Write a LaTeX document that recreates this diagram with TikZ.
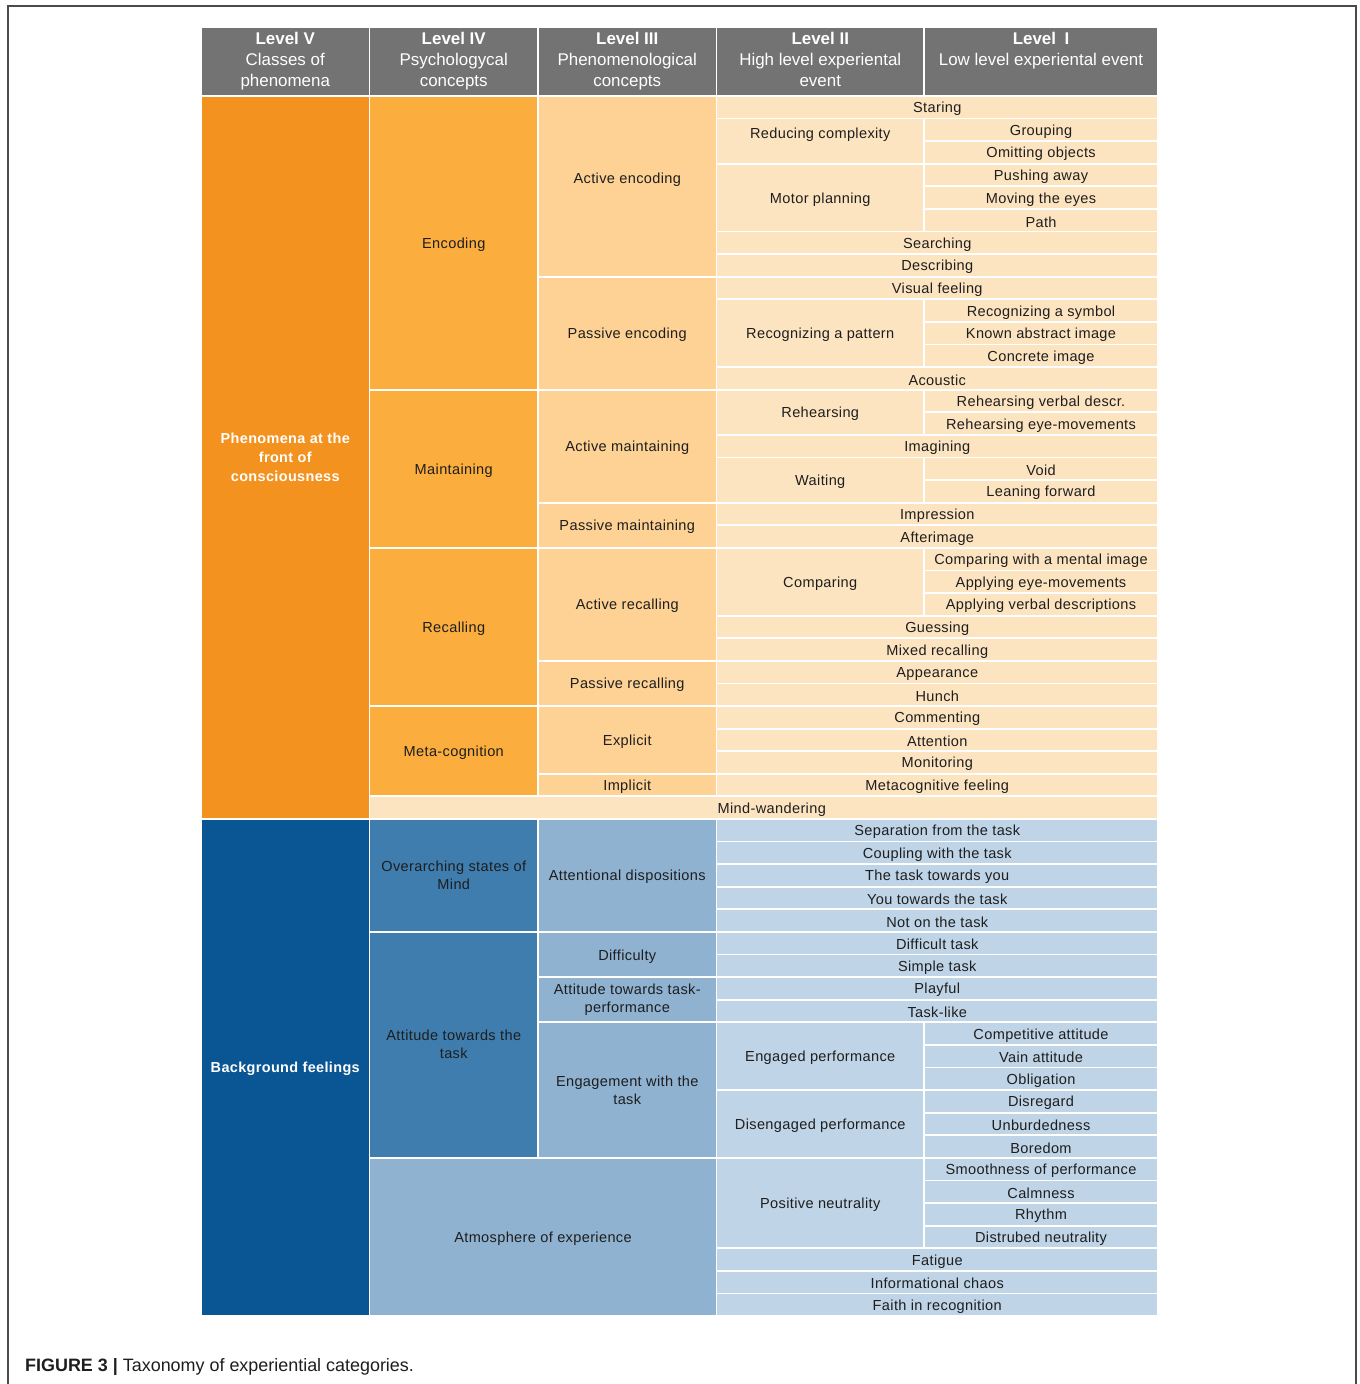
\documentclass[tikz,border=0pt]{standalone}
\usepackage{fontspec}
\setmainfont{Liberation Sans}
\newfontfamily\cellfont{Liberation Sans}[LetterSpace=2.5]
\definecolor{hdrgray}{HTML}{737373}
\definecolor{oV}{HTML}{F3921F}
\definecolor{oIV}{HTML}{FBAD3D}
\definecolor{oIII}{HTML}{FDD294}
\definecolor{oII}{HTML}{FDE4C1}
\definecolor{bV}{HTML}{0A5593}
\definecolor{bIV}{HTML}{3F7DAE}
\definecolor{bIII}{HTML}{8FB2D1}
\definecolor{bII}{HTML}{BFD4E7}
\definecolor{txt}{HTML}{1E1E1E}
\definecolor{framecol}{HTML}{4A4A4A}
\def\cA{201}\def\cB{369.5}\def\cC{538}\def\cD{716.5}\def\cE{924}\def\cF{1158}
\newcommand\cellstrut{\rule[-0.5bp]{0pt}{14.5bp}}
\newcommand\hs{\rule[-4.5bp]{0pt}{16bp}}
\newcommand\lift[2]{\raisebox{#1}[0pt][0pt]{#2}}
\newcommand\tcell[7]{%
  \pgfmathsetmacro\cya{96+(#4-1)*22.593}%
  \pgfmathsetmacro\cyb{96+(#5)*22.593}%
  \pgfmathsetmacro\cw{#3-#2}%
  \pgfmathsetmacro\ch{\cyb-\cya}%
  \pgfmathsetmacro\cx{(#2+#3)/2}%
  \pgfmathsetmacro\cy{(\cya+\cyb)/2}%
  \node[cellbase,#6,minimum width=\cw bp,minimum height=\ch bp] (#1) at (\cx,\cy) {#7};}
\newcommand\hcell[4]{%
  \pgfmathsetmacro\cw{#3-#2}%
  \pgfmathsetmacro\cx{(#2+#3)/2}%
  \node[hdr,minimum width=\cw bp] (#1) at (\cx,61.25) {#4};}
\begin{document}
\begin{tikzpicture}[x=1bp,y=-1bp,
  cellbase/.style={draw=white,line width=1.8bp,inner sep=0pt,outer sep=0pt,align=center,
    text=txt,font=\cellfont\fontsize{14.6}{18}\selectfont,execute at begin node=\cellstrut},
  ml/.style={execute at begin node={}},
  hdr/.style={draw=white,line width=1.8bp,inner sep=0pt,outer sep=0pt,align=center,
    fill=hdrgray,text=white,minimum height=68.5bp,font=\fontsize{17}{21}\selectfont},
  ov/.style={fill=oV,text=white,font=\cellfont\bfseries\fontsize{14.5}{18.7}\selectfont},
  oiv/.style={fill=oIV},
  oiii/.style={fill=oIII},
  oii/.style={fill=oII},
  bv/.style={fill=bV,text=white,font=\cellfont\bfseries\fontsize{14.5}{18.7}\selectfont},
  biv/.style={fill=bIV},
  biii/.style={fill=bIII},
  bii/.style={fill=bII}]
\useasboundingbox (0,0) rectangle (1360,1384);
\fill[white] (0,0) rectangle (1360,1384);
\draw[framecol,line width=1.5bp] (8,1384) -- (8,6) -- (1356,6) -- (1356,1384);
% header
\hcell{h5}{\cA}{\cB}{\hs\textbf{Level V}\\\hs Classes of\\\hs phenomena}
\hcell{h4}{\cB}{\cC}{\hs\textbf{Level IV}\\\hs Psychologycal\\\hs concepts}
\hcell{h3}{\cC}{\cD}{\hs\textbf{Level III}\\\hs Phenomenological\\\hs concepts}
\hcell{h2}{\cD}{\cE}{\hs\textbf{Level II}\\\hs High level experiental\\\hs event}
\hcell{h1}{\cE}{\cF}{\hs\textbf{Level\enspace I}\\\hs Low level experiental event\\\hs}
% Level V
\tcell{v1}{\cA}{\cB}{1}{32}{ov,ml}{Phenomena at the\\front of\\consciousness}
\tcell{v2}{\cA}{\cB}{33}{54}{bv}{Background feelings}
% Level IV
\tcell{iv1}{\cB}{\cC}{1}{13}{oiv}{Encoding}
\tcell{iv2}{\cB}{\cC}{14}{20}{oiv}{Maintaining}
\tcell{iv3}{\cB}{\cC}{21}{27}{oiv}{Recalling}
\tcell{iv4}{\cB}{\cC}{28}{31}{oiv}{Meta-cognition}
\tcell{mw}{\cB}{\cF}{32}{32}{oii}{\hspace*{16bp}Mind-wandering}
\tcell{iv5}{\cB}{\cC}{33}{37}{biv,ml}{Overarching states of\\Mind}
\tcell{iv6}{\cB}{\cC}{38}{47}{biv,ml}{Attitude towards the\\task}
\tcell{iv7}{\cB}{\cD}{48}{54}{biii}{Atmosphere of experience}
% Level III
\tcell{iii1}{\cC}{\cD}{1}{8}{oiii}{\lift{9.5bp}{Active encoding}}
\tcell{iii2}{\cC}{\cD}{9}{13}{oiii}{Passive encoding}
\tcell{iii3}{\cC}{\cD}{14}{18}{oiii}{Active maintaining}
\tcell{iii4}{\cC}{\cD}{19}{20}{oiii}{Passive maintaining}
\tcell{iii5}{\cC}{\cD}{21}{25}{oiii}{Active recalling}
\tcell{iii6}{\cC}{\cD}{26}{27}{oiii}{Passive recalling}
\tcell{iii7}{\cC}{\cD}{28}{30}{oiii}{Explicit}
\tcell{iii8}{\cC}{\cD}{31}{31}{oiii}{Implicit}
\tcell{iii9}{\cC}{\cD}{33}{37}{biii}{Attentional dispositions}
\tcell{iii10}{\cC}{\cD}{38}{39}{biii}{Difficulty}
\tcell{iii11}{\cC}{\cD}{40}{41}{biii,ml}{Attitude towards task-\\performance}
\tcell{iii12}{\cC}{\cD}{42}{47}{biii,ml}{Engagement with the\\task}
% Level II / I (orange)
\tcell{r1}{\cD}{\cF}{1}{1}{oii}{Staring}
\tcell{ii1}{\cD}{\cE}{2}{3}{oii}{\lift{9bp}{Reducing complexity}}
\tcell{r2}{\cE}{\cF}{2}{2}{oii}{Grouping}
\tcell{r3}{\cE}{\cF}{3}{3}{oii}{Omitting objects}
\tcell{ii2}{\cD}{\cE}{4}{6}{oii}{Motor planning}
\tcell{r4}{\cE}{\cF}{4}{4}{oii}{Pushing away}
\tcell{r5}{\cE}{\cF}{5}{5}{oii}{Moving the eyes}
\tcell{r6}{\cE}{\cF}{6}{6}{oii}{Path}
\tcell{r7}{\cD}{\cF}{7}{7}{oii}{Searching}
\tcell{r8}{\cD}{\cF}{8}{8}{oii}{Describing}
\tcell{r9}{\cD}{\cF}{9}{9}{oii}{Visual feeling}
\tcell{ii3}{\cD}{\cE}{10}{12}{oii}{Recognizing a pattern}
\tcell{r10}{\cE}{\cF}{10}{10}{oii}{Recognizing a symbol}
\tcell{r11}{\cE}{\cF}{11}{11}{oii}{Known abstract image}
\tcell{r12}{\cE}{\cF}{12}{12}{oii}{Concrete image}
\tcell{r13}{\cD}{\cF}{13}{13}{oii}{Acoustic}
\tcell{ii4}{\cD}{\cE}{14}{15}{oii}{Rehearsing}
\tcell{r14}{\cE}{\cF}{14}{14}{oii}{Rehearsing verbal descr.}
\tcell{r15}{\cE}{\cF}{15}{15}{oii}{Rehearsing eye-movements}
\tcell{r16}{\cD}{\cF}{16}{16}{oii}{Imagining}
\tcell{ii5}{\cD}{\cE}{17}{18}{oii}{Waiting}
\tcell{r17}{\cE}{\cF}{17}{17}{oii}{Void}
\tcell{r18}{\cE}{\cF}{18}{18}{oii}{Leaning forward}
\tcell{r19}{\cD}{\cF}{19}{19}{oii}{Impression}
\tcell{r20}{\cD}{\cF}{20}{20}{oii}{Afterimage}
\tcell{ii6}{\cD}{\cE}{21}{23}{oii}{Comparing}
\tcell{r21}{\cE}{\cF}{21}{21}{oii}{Comparing with a mental image}
\tcell{r22}{\cE}{\cF}{22}{22}{oii}{Applying eye-movements}
\tcell{r23}{\cE}{\cF}{23}{23}{oii}{Applying verbal descriptions}
\tcell{r24}{\cD}{\cF}{24}{24}{oii}{Guessing}
\tcell{r25}{\cD}{\cF}{25}{25}{oii}{Mixed recalling}
\tcell{r26}{\cD}{\cF}{26}{26}{oii}{Appearance}
\tcell{r27}{\cD}{\cF}{27}{27}{oii}{Hunch}
\tcell{r28}{\cD}{\cF}{28}{28}{oii}{Commenting}
\tcell{r29}{\cD}{\cF}{29}{29}{oii}{Attention}
\tcell{r30}{\cD}{\cF}{30}{30}{oii}{Monitoring}
\tcell{r31}{\cD}{\cF}{31}{31}{oii}{Metacognitive feeling}
% Level II / I (blue)
\tcell{r33}{\cD}{\cF}{33}{33}{bii}{Separation from the task}
\tcell{r34}{\cD}{\cF}{34}{34}{bii}{Coupling with the task}
\tcell{r35}{\cD}{\cF}{35}{35}{bii}{The task towards you}
\tcell{r36}{\cD}{\cF}{36}{36}{bii}{You towards the task}
\tcell{r37}{\cD}{\cF}{37}{37}{bii}{Not on the task}
\tcell{r38}{\cD}{\cF}{38}{38}{bii}{Difficult task}
\tcell{r39}{\cD}{\cF}{39}{39}{bii}{Simple task}
\tcell{r40}{\cD}{\cF}{40}{40}{bii}{Playful}
\tcell{r41}{\cD}{\cF}{41}{41}{bii}{Task-like}
\tcell{ii7}{\cD}{\cE}{42}{44}{bii}{Engaged performance}
\tcell{r42}{\cE}{\cF}{42}{42}{bii}{Competitive attitude}
\tcell{r43}{\cE}{\cF}{43}{43}{bii}{Vain attitude}
\tcell{r44}{\cE}{\cF}{44}{44}{bii}{Obligation}
\tcell{ii8}{\cD}{\cE}{45}{47}{bii}{Disengaged performance}
\tcell{r45}{\cE}{\cF}{45}{45}{bii}{Disregard}
\tcell{r46}{\cE}{\cF}{46}{46}{bii}{Unburdedness}
\tcell{r47}{\cE}{\cF}{47}{47}{bii}{Boredom}
\tcell{ii9}{\cD}{\cE}{48}{51}{bii}{Positive neutrality}
\tcell{r48}{\cE}{\cF}{48}{48}{bii}{Smoothness of performance}
\tcell{r49}{\cE}{\cF}{49}{49}{bii}{Calmness}
\tcell{r50}{\cE}{\cF}{50}{50}{bii}{Rhythm}
\tcell{r51}{\cE}{\cF}{51}{51}{bii}{Distrubed neutrality}
\tcell{r52}{\cD}{\cF}{52}{52}{bii}{Fatigue}
\tcell{r53}{\cD}{\cF}{53}{53}{bii}{Informational chaos}
\tcell{r54}{\cD}{\cF}{54}{54}{bii}{Faith in recognition}
% caption
\node[anchor=base west,inner sep=0pt,text=txt,font=\fontsize{18}{22}\selectfont] (caption) at (25,1371)
  {\textbf{FIGURE 3 |} Taxonomy of experiential categories.};
\end{tikzpicture}
\end{document}
